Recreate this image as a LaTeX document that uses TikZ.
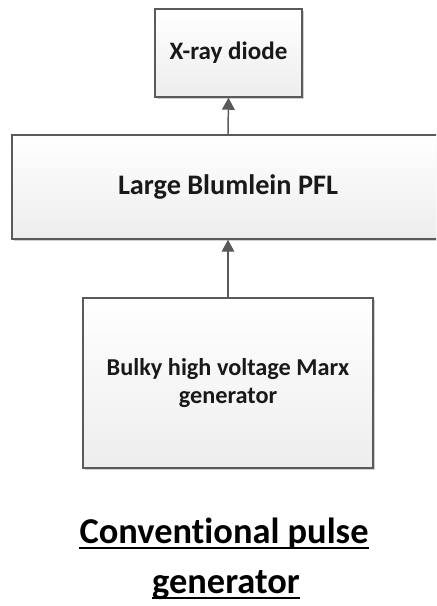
\documentclass[tikz,border=0pt]{standalone}
\usepackage{fontspec}
\setmainfont{Carlito}[Ligatures=NoCommon]
\usetikzlibrary{shadows,arrows.meta}
\definecolor{edge}{HTML}{5A5A5A}
\tikzset{
  blockbox/.style={draw=edge, line width=1.1pt, top color=white, bottom color=black!7,
    drop shadow={shadow xshift=1.2pt, shadow yshift=-1.2pt, fill=black, opacity=0.18},
    inner sep=0pt, align=center, text=black!90, font=\bfseries\fontsize{18.2}{21.5}\selectfont},
  flow/.style={draw=edge, line width=1.1pt, -{Triangle[length=9pt,width=9.5pt]}},
  titletext/.style={inner sep=0pt, anchor=base, font=\bfseries\fontsize{27.3}{32}\selectfont},
  uline/.style={draw=black, line width=1.7pt},
}
\begin{document}
\begin{tikzpicture}[x=0.75pt,y=-0.75pt]
\useasboundingbox (0,0) rectangle (436,606);
\clip (0,0) rectangle (436,606);
\node[blockbox, minimum width=110.25pt, minimum height=66pt, font=\bfseries\fontsize{18.8}{22}\selectfont] (xray) at (228.5,53) {X-ray diode};
\node[blockbox, minimum width=324pt, minimum height=78pt, font=\bfseries\fontsize{21.2}{25}\selectfont] (blum) at (228,187) {Large Blumlein PFL};
\node[blockbox, minimum width=217.5pt, minimum height=127.5pt] (marx) at (228,383) {Bulky high voltage Marx\\generator};
\draw[flow] (marx.north) -- (blum.south);
\draw[flow] (blum.north) -- (xray.south);
\node[titletext] (t1) at (224,543) {Conventional pulse};
\node[titletext] (t2) at (226,593) {generator};
\draw[uline] ([yshift=-4pt]t1.base west) -- ([yshift=-4pt]t1.base east);
\draw[uline] ([yshift=-4pt]t2.base west) -- ([yshift=-4pt]t2.base east);
\end{tikzpicture}
\end{document}
